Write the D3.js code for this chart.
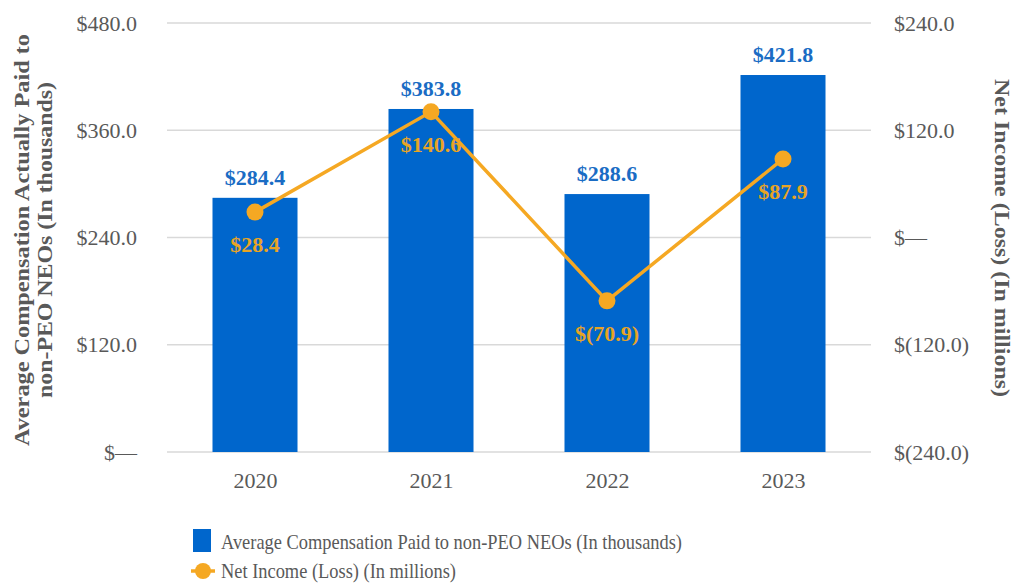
<!doctype html>
<html>
<head>
<meta charset="utf-8">
<script src="https://d3js.org/d3.v7.min.js"></script>
<style>
  svg text { font-family: "Liberation Serif", Tinos, "Times New Roman", serif !important; }
</style>
</head>
<body style="margin:0; background:#fff">
<div id="chart"></div>
<script>
// data
var years = ["2020", "2021", "2022", "2023"];
var compensation = [284.4, 383.8, 288.6, 421.8];   // thousands
var netIncome = [28.4, 140.6, -70.9, 87.9];         // millions
var leftTicks = [0, 120, 240, 360, 480];
var rightTicks = [-240, -120, 0, 120, 240];

var W = 1016, H = 583;
var blue = "#0066cc", gold = "#f5a823", grey = "#595959";
var FONT = "Liberation Serif";

var svg = d3.select("#chart").append("svg")
    .attr("width", W).attr("height", H)
    .attr("font-family", FONT);

var x = d3.scalePoint().domain(years).range([167, 871]).padding(0.5);
var barW = x.step() * 0.483;

var yL = d3.scaleLinear().domain([0, 480]).range([452, 23]);
var yR = d3.scaleLinear().domain([-240, 240]).range([452, 23]);

function money(v) {
    if (v === 0) return "$\u2014";
    var s = d3.format(".1f")(Math.abs(v));
    return v < 0 ? "$(" + s + ")" : "$" + s;
}

// gridlines
svg.append("g").selectAll("line").data(leftTicks).enter().append("line")
    .attr("x1", 167).attr("x2", 871)
    .attr("y1", function(d) { return yL(d); })
    .attr("y2", function(d) { return yL(d); })
    .attr("stroke", "#d9d9d9").attr("stroke-width", 1.3);

function styleAxis(g) {
    g.select(".domain").remove();
    g.attr("font-family", FONT).attr("font-size", 22);
    g.selectAll("text").attr("font-family", FONT).attr("font-size", 22).attr("fill", grey);
}

// left axis
svg.append("g").attr("transform", "translate(147,0)")
    .call(d3.axisLeft(yL).tickValues(leftTicks).tickSize(0).tickPadding(10).tickFormat(money))
    .call(styleAxis);

// right axis
svg.append("g").attr("transform", "translate(884,0)")
    .call(d3.axisRight(yR).tickValues(rightTicks).tickSize(0).tickPadding(10).tickFormat(money))
    .call(styleAxis);

// x axis
svg.append("g").attr("transform", "translate(0,464)")
    .call(d3.axisBottom(x).tickSize(0).tickPadding(8))
    .call(styleAxis);

// bars
svg.append("g").selectAll("rect").data(compensation).enter().append("rect")
    .attr("x", function(d, i) { return x(years[i]) - barW / 2; })
    .attr("width", barW)
    .attr("y", function(d) { return yL(d); })
    .attr("height", function(d) { return yL(0) - yL(d); })
    .attr("fill", blue);

svg.append("g").selectAll("text").data(compensation).enter().append("text")
    .attr("x", function(d, i) { return x(years[i]); })
    .attr("y", function(d) { return yL(d) - 13; })
    .attr("text-anchor", "middle")
    .attr("font-family", FONT).attr("font-size", 22).attr("font-weight", "bold")
    .attr("fill", "#1a6cc4")
    .text(money);

// line
var line = d3.line()
    .x(function(d, i) { return x(years[i]); })
    .y(function(d) { return yR(d); });

svg.append("path").datum(netIncome)
    .attr("d", line)
    .attr("fill", "none").attr("stroke", gold).attr("stroke-width", 3.5);

svg.append("g").selectAll("circle").data(netIncome).enter().append("circle")
    .attr("cx", function(d, i) { return x(years[i]); })
    .attr("cy", function(d) { return yR(d); })
    .attr("r", 8.5)
    .attr("fill", gold);

svg.append("g").selectAll("text").data(netIncome).enter().append("text")
    .attr("x", function(d, i) { return x(years[i]); })
    .attr("y", function(d) { return yR(d) + 40; })
    .attr("text-anchor", "middle")
    .attr("font-family", FONT).attr("font-size", 22).attr("font-weight", "bold")
    .attr("fill", "#e8a424")
    .text(money);

// axis titles (lengths fitted to the original layout)
var lt = svg.append("g").attr("transform", "translate(29,240) rotate(-90)")
    .attr("font-family", FONT).attr("font-size", 22).attr("font-weight", "bold").attr("fill", grey);
lt.append("text").attr("text-anchor", "middle")
    .attr("textLength", 412).attr("lengthAdjust", "spacingAndGlyphs")
    .text("Average Compensation Actually Paid to");
lt.append("text").attr("text-anchor", "middle").attr("y", 23)
    .attr("textLength", 316).attr("lengthAdjust", "spacingAndGlyphs")
    .text("non-PEO NEOs (In thousands)");

svg.append("text")
    .attr("transform", "translate(995,238) rotate(90)")
    .attr("text-anchor", "middle")
    .attr("textLength", 318).attr("lengthAdjust", "spacingAndGlyphs")
    .attr("font-family", FONT).attr("font-size", 22).attr("font-weight", "bold").attr("fill", grey)
    .text("Net Income (Loss) (In millions)");

// legend
var leg = svg.append("g");
leg.append("rect").attr("x", 193).attr("y", 529).attr("width", 18).attr("height", 23).attr("fill", blue);
leg.append("text").attr("x", 221).attr("y", 549)
    .attr("textLength", 461).attr("lengthAdjust", "spacingAndGlyphs")
    .attr("font-family", FONT).attr("font-size", 21).attr("fill", grey)
    .text("Average Compensation Paid to non-PEO NEOs (In thousands)");
leg.append("line").attr("x1", 191).attr("x2", 215).attr("y1", 571).attr("y2", 571)
    .attr("stroke", gold).attr("stroke-width", 3.5);
leg.append("circle").attr("cx", 203).attr("cy", 571).attr("r", 8).attr("fill", gold);
leg.append("text").attr("x", 221).attr("y", 578)
    .attr("textLength", 235).attr("lengthAdjust", "spacingAndGlyphs")
    .attr("font-family", FONT).attr("font-size", 21).attr("fill", grey)
    .text("Net Income (Loss) (In millions)");
</script>
</body>
</html>
